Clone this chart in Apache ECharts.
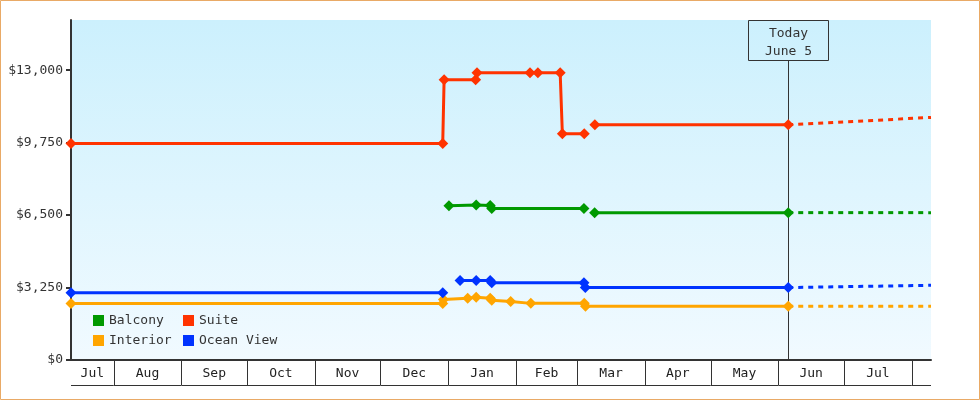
<!DOCTYPE html>
<html>
<head>
<meta charset="utf-8">
<script src="https://cdn.jsdelivr.net/npm/echarts@6/dist/echarts.min.js"></script>
<style>
html,body{margin:0;padding:0;background:#fff;}
#chart{width:980px;height:400px;}
</style>
</head>
<body>
<div id="chart"></div>
<script>
// ---- data ----
const xMin = '2014-07-12 12:00';
const xMax = '2015-08-09 19:00';
const todayDate = '2015-06-05 12:00';
const todayLabel = 'Today\nJune 5';
const yTicks = [0, 3250, 6500, 9750, 13000];
const yMax = 15250;
const monthStarts = ['2014-07-01','2014-08-01','2014-09-01','2014-10-01','2014-11-01','2014-12-01',
  '2015-01-01','2015-02-01','2015-03-01','2015-04-01','2015-05-01','2015-06-01','2015-07-01','2015-08-01','2015-09-01'];
const monthLabels = ['Jul','Aug','Sep','Oct','Nov','Dec','Jan','Feb','Mar','Apr','May','Jun','Jul','Aug'];

const balcony = [
  ['2015-01-01 08:00', 6920],
  ['2015-01-13 19:00', 6950],
  ['2015-01-20 05:00', 6935],
  ['2015-01-20 22:00', 6790],
  ['2015-03-04 02:00', 6790],
  ['2015-03-06 00:00', null],
  ['2015-03-08 23:00', 6610],
  ['2015-06-05 12:00', 6610]
];
const balconyForecast = [['2015-06-05 12:00', 6610], ['2015-08-09 19:00', 6610]];

const suite = [
  ['2014-07-12 12:00', 9710],
  ['2014-12-29 12:00', 9710],
  ['2014-12-30 03:00', 12570],
  ['2015-01-13 13:00', 12570],
  ['2015-01-14 04:00', 12880],
  ['2015-02-07 10:00', 12880],
  ['2015-02-11 00:00', 12880],
  ['2015-02-21 05:00', 12880],
  ['2015-02-22 05:00', 10150],
  ['2015-03-04 05:00', 10150],
  ['2015-03-06 00:00', null],
  ['2015-03-09 02:00', 10550],
  ['2015-06-05 12:00', 10550]
];
const suiteForecast = [['2015-06-05 12:00', 10550], ['2015-08-09 19:00', 10880]];

const interior = [
  ['2014-07-12 12:00', 2530],
  ['2014-12-29 12:00', 2530],
  ['2014-12-29 20:00', 2710],
  ['2015-01-09 22:00', 2770],
  ['2015-01-13 19:00', 2810],
  ['2015-01-20 05:00', 2770],
  ['2015-01-20 22:00', 2680],
  ['2015-01-29 14:00', 2620],
  ['2015-02-07 19:00', 2540],
  ['2015-03-04 05:00', 2540],
  ['2015-03-04 19:00', 2410],
  ['2015-06-05 12:00', 2410]
];
const interiorForecast = [['2015-06-05 12:00', 2410], ['2015-08-09 19:00', 2410]];

const oceanView = [
  ['2014-07-12 12:00', 3020],
  ['2014-12-29 12:00', 3020],
  ['2015-01-01 00:00', null],
  ['2015-01-06 10:00', 3570],
  ['2015-01-13 19:00', 3570],
  ['2015-01-20 05:00', 3570],
  ['2015-01-20 22:00', 3470],
  ['2015-03-04 02:00', 3470],
  ['2015-03-04 17:00', 3250],
  ['2015-06-05 12:00', 3250]
];
const oceanViewForecast = [['2015-06-05 12:00', 3250], ['2015-08-09 19:00', 3350]];

// ---- helpers ----
function ts(s) {
  const m = s.match(/(\d+)-(\d+)-(\d+)(?:\s+(\d+):(\d+))?/);
  return new Date(+m[1], +m[2] - 1, +m[3], m[4] ? +m[4] : 0, m[5] ? +m[5] : 0).getTime();
}
function conv(arr) { return arr.map(d => [ts(d[0]), d[1]]); }

const FONT = 'DejaVu Sans Mono';
const colors = { Balcony: '#009900', Suite: '#ff3300', Interior: '#ffa500', 'Ocean View': '#0033ff' };

function solid(name, data) {
  return {
    name, type: 'line', data: conv(data), color: colors[name],
    symbol: 'diamond', symbolSize: 11, showSymbol: true, showAllSymbol: true,
    connectNulls: false, lineStyle: { width: 3, color: colors[name] },
    itemStyle: { color: colors[name] }, z: 3, animation: false
  };
}
function forecast(name, data) {
  return {
    name: name + ' forecast', type: 'line', data: conv(data), color: colors[name],
    showSymbol: false, symbol: 'none',
    lineStyle: { width: 3, type: [5, 5], color: colors[name] }, z: 2, animation: false
  };
}

const monthBands = monthLabels.map((l, i) => [ts(monthStarts[i]), ts(monthStarts[i + 1])]);

const chart = echarts.init(document.getElementById('chart'), null, { renderer: 'canvas' });
const option = {
  animation: false,
  backgroundColor: '#fff',
  grid: {
    left: 71, right: 49, top: 20, bottom: 40, show: true, borderWidth: 0,
    backgroundColor: new echarts.graphic.LinearGradient(0, 0, 0, 1, [
      { offset: 0, color: '#ccf0fd' }, { offset: 1, color: '#f1faff' }
    ])
  },
  xAxis: {
    type: 'time', min: ts(xMin), max: ts(xMax),
    axisLine: { show: true, lineStyle: { color: '#333', width: 2 } },
    axisTick: { show: false }, axisLabel: { show: false }, splitLine: { show: false }
  },
  yAxis: {
    type: 'value', min: 0, max: yMax,
    axisLine: { show: true, lineStyle: { color: '#333', width: 2 } },
    axisTick: { show: true, length: 5, customValues: yTicks, lineStyle: { color: '#333', width: 2 } },
    axisLabel: {
      customValues: yTicks, margin: 8, color: '#333', fontFamily: FONT, fontSize: 13,
      formatter: v => '$' + v.toLocaleString('en-US')
    },
    splitLine: { show: false }
  },
  legend: [
    {
      orient: 'vertical', left: 93, top: 314, padding: 0, itemWidth: 11, itemHeight: 11, itemGap: 7,
      icon: 'rect', data: ['Balcony', 'Interior'],
      textStyle: { fontFamily: FONT, fontSize: 13, color: '#333' }
    },
    {
      orient: 'vertical', left: 183, top: 314, padding: 0, itemWidth: 11, itemHeight: 11, itemGap: 7,
      icon: 'rect', data: ['Suite', 'Ocean View'],
      textStyle: { fontFamily: FONT, fontSize: 13, color: '#333' }
    }
  ],
  graphic: [{
    type: 'rect', shape: { x: 0.5, y: 0.5, width: 979, height: 399 },
    style: { fill: 'none', stroke: '#e9aa66', lineWidth: 1 }, silent: true, z: 100
  }],
  series: [
    {
      type: 'custom', name: 'months', data: monthBands, encode: { x: [0, 1] }, clip: false, silent: true, z: 1,
      renderItem: function (params, api) {
        const cs = params.coordSys;
        const left = cs.x, right = cs.x + cs.width, base = cs.y + cs.height;
        const x0 = api.coord([api.value(0), 0])[0];
        const x1 = api.coord([api.value(1), 0])[0];
        const a = Math.max(x0, left), b = Math.min(x1, right);
        if (b <= a) return null;
        const children = [{
          type: 'line', shape: { x1: a, y1: base + 25.5, x2: b, y2: base + 25.5 },
          style: { stroke: '#333', lineWidth: 1 }
        }];
        if (x1 > left && x1 < right - 1) {
          const xx = Math.round(x1) + 0.5;
          children.push({ type: 'line', shape: { x1: xx, y1: base, x2: xx, y2: base + 25 },
            style: { stroke: '#333', lineWidth: 1 } });
        }
        if (b - a > 30) {
          children.push({ type: 'text', style: {
            text: monthLabels[params.dataIndex], x: (a + b) / 2, y: base + 14,
            align: 'center', verticalAlign: 'middle', fontFamily: FONT, fontSize: 13, fill: '#222'
          } });
        }
        return { type: 'group', children };
      }
    },
    {
      type: 'custom', name: 'today', data: [[ts(todayDate)]], encode: { x: 0 }, clip: false, silent: true, z: 1,
      renderItem: function (params, api) {
        const cs = params.coordSys;
        const top = cs.y, base = cs.y + cs.height;
        const x = Math.round(api.coord([api.value(0), 0])[0]) + 0.5;
        return { type: 'group', children: [
          { type: 'line', shape: { x1: x, y1: top + 40.5, x2: x, y2: base },
            style: { stroke: '#333', lineWidth: 1 } },
          { type: 'rect', shape: { x: x - 40, y: top + 0.5, width: 80, height: 40 },
            style: { fill: 'none', stroke: '#333', lineWidth: 1 } },
          { type: 'text', style: { text: todayLabel, x: x, y: top + 22.5, align: 'center', verticalAlign: 'middle',
            lineHeight: 18, fontFamily: FONT, fontSize: 13, fill: '#333' } }
        ] };
      }
    },
    forecast('Balcony', balconyForecast),
    forecast('Suite', suiteForecast),
    forecast('Interior', interiorForecast),
    forecast('Ocean View', oceanViewForecast),
    solid('Balcony', balcony),
    solid('Suite', suite),
    solid('Interior', interior),
    solid('Ocean View', oceanView)
  ]
};
chart.setOption(option);
</script>
</body>
</html>
